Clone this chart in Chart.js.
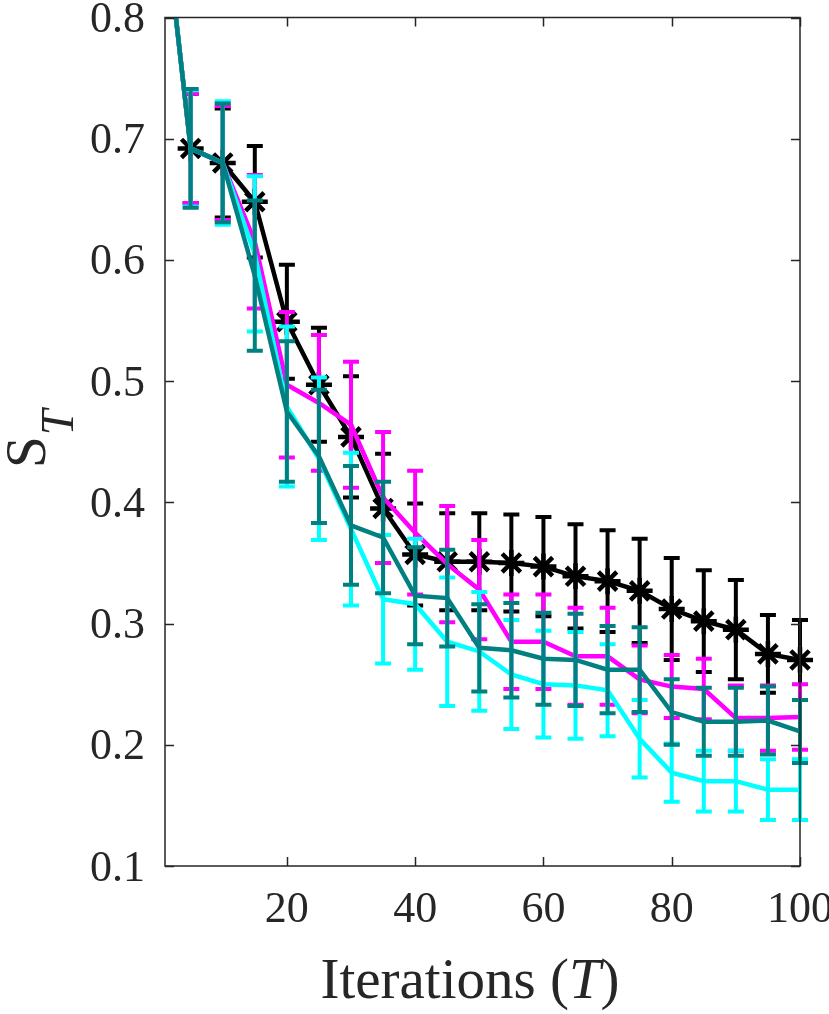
<!DOCTYPE html>
<html>
<head>
<meta charset="utf-8">
<script src="https://cdn.jsdelivr.net/npm/chart.js@4.4.1/dist/chart.umd.min.js"></script>
<style>
html,body{margin:0;padding:0;background:#ffffff;}
#wrap{width:829px;height:1014px;position:relative;}
canvas{display:block;}
</style>
</head>
<body>
<div id="wrap"><canvas id="c" width="829" height="1014"></canvas></div>
<script>
// ---- data ----
const iterations = [1,5,10,15,20,25,30,35,40,45,50,55,60,65,70,75,80,85,90,95,100];

const blackMean = [0.880,0.692,0.680,0.648,0.549,0.497,0.454,0.395,0.357,0.351,0.351,0.350,0.347,0.339,0.335,0.327,0.312,0.302,0.295,0.275,0.270];
const blackErr  = [0.050,0.045,0.045,0.046,0.047,0.047,0.050,0.045,0.042,0.040,0.040,0.040,0.041,0.043,0.042,0.043,0.042,0.042,0.041,0.032,0.033];

const magentaMean = [0.880,0.692,0.680,0.615,0.497,0.482,0.464,0.404,0.375,0.349,0.328,0.285,0.285,0.273,0.273,0.254,0.248,0.246,0.222,0.222,0.223];
const magentaErr  = [0.050,0.045,0.047,0.055,0.060,0.056,0.052,0.054,0.051,0.048,0.041,0.039,0.039,0.040,0.040,0.028,0.026,0.025,0.027,0.027,0.027];

const cyanMean = [0.880,0.692,0.680,0.605,0.479,0.436,0.378,0.320,0.316,0.285,0.277,0.258,0.250,0.249,0.245,0.205,0.177,0.170,0.170,0.163,0.163];
const cyanErr  = [0.050,0.048,0.051,0.064,0.066,0.067,0.063,0.053,0.054,0.053,0.049,0.045,0.044,0.044,0.038,0.032,0.024,0.025,0.025,0.025,0.025];

const tealMean = [0.880,0.692,0.680,0.587,0.475,0.438,0.381,0.371,0.323,0.321,0.280,0.278,0.271,0.270,0.262,0.262,0.227,0.219,0.219,0.220,0.211];
const tealErr  = [0.050,0.049,0.049,0.062,0.058,0.055,0.049,0.046,0.040,0.040,0.036,0.039,0.038,0.038,0.036,0.035,0.027,0.028,0.028,0.028,0.026];

const xTicks = [20,40,60,80,100];
const yTicks = [0.1,0.2,0.3,0.4,0.5,0.6,0.7,0.8];
const yTickLabels = ['0.1','0.2','0.3','0.4','0.5','0.6','0.7','0.8'];

const xTitleMain = 'Iterations (';
const xTitleVar = 'T';
const xTitleEnd = ')';
const yTitleMain = 'S';
const yTitleSub = 'T';

// ---- styling ----
const AXIS = '#262626';
const FONT = '"Liberation Serif", "Times New Roman", Times, serif';

function toPoints(mean){ return iterations.map((x,i)=>({x:x, y:mean[i]})); }

const errorBarPlugin = {
  id: 'errorBars',
  afterDatasetDraw(chart, args) {
    const ds = chart.data.datasets[args.index];
    if (!ds.errors) return;
    const ctx = chart.ctx, a = chart.chartArea;
    const xs = chart.scales.x, ys = chart.scales.y;
    ctx.save();
    ctx.beginPath();
    ctx.rect(a.left, a.top, a.right - a.left + 20, a.bottom - a.top);
    ctx.clip();
    ctx.strokeStyle = ds.borderColor;
    ctx.lineWidth = 4;
    ctx.lineCap = 'butt';
    const half = 8;
    ds.data.forEach((p, i) => {
      const e = ds.errors[i];
      const px = xs.getPixelForValue(p.x);
      const top = ys.getPixelForValue(p.y + e);
      const bot = ys.getPixelForValue(p.y - e);
      ctx.beginPath();
      ctx.moveTo(px, top); ctx.lineTo(px, bot);
      ctx.moveTo(px - half, top); ctx.lineTo(px + half, top);
      ctx.moveTo(px - half, bot); ctx.lineTo(px + half, bot);
      ctx.stroke();
    });
    ctx.restore();
  }
};

const axesBoxPlugin = {
  id: 'axesBox',
  afterDatasetsDraw(chart) {
    const ctx = chart.ctx, a = chart.chartArea;
    const xs = chart.scales.x, ys = chart.scales.y;
    const tl = 9;
    ctx.save();
    ctx.strokeStyle = AXIS;
    ctx.lineWidth = 1.5;
    ctx.strokeRect(a.left, a.top, a.right - a.left, a.bottom - a.top);
    ctx.beginPath();
    xTicks.forEach(v => {
      const px = Math.round(xs.getPixelForValue(v)) + 0.5;
      ctx.moveTo(px, a.bottom); ctx.lineTo(px, a.bottom - tl);
      ctx.moveTo(px, a.top); ctx.lineTo(px, a.top + tl);
    });
    yTicks.forEach(v => {
      const py = Math.round(ys.getPixelForValue(v)) + 0.5;
      ctx.moveTo(a.left, py); ctx.lineTo(a.left + tl, py);
      ctx.moveTo(a.right, py); ctx.lineTo(a.right - tl, py);
    });
    ctx.stroke();
    ctx.restore();
  },
  afterDraw(chart) {
    const ctx = chart.ctx;
    ctx.save();
    ctx.fillStyle = AXIS;
    ctx.textBaseline = 'alphabetic';
    ctx.textAlign = 'left';
    // x title
    const up = '57px ' + FONT, it = 'italic 57px ' + FONT;
    ctx.font = up; const w1 = ctx.measureText(xTitleMain).width; const w3 = ctx.measureText(xTitleEnd).width;
    ctx.font = it; const w2 = ctx.measureText(xTitleVar).width;
    let x0 = 470 - (w1 + w2 + w3) / 2;
    const by = 998;
    ctx.font = up; ctx.fillText(xTitleMain, x0, by);
    ctx.font = it; ctx.fillText(xTitleVar, x0 + w1, by);
    ctx.font = up; ctx.fillText(xTitleEnd, x0 + w1 + w2, by);
    // y title (rotated)
    ctx.translate(45, 468);
    ctx.rotate(-Math.PI / 2);
    ctx.font = up;
    const ws = ctx.measureText(yTitleMain).width;
    ctx.fillText(yTitleMain, 0, 0);
    ctx.font = 'italic 46px ' + FONT;
    ctx.fillText(yTitleSub, ws + 1, 28);
    ctx.restore();
  }
};

const lineCommon = {
  showLine: true,
  tension: 0,
  borderWidth: 4.5,
  pointRadius: 0,
  pointHoverRadius: 0,
  clip: {left: 0, top: 0, right: 20, bottom: 0},
  fill: false
};

const datasets = [
  Object.assign({}, lineCommon, {
    label: 'teal', data: toPoints(tealMean), errors: tealErr,
    borderColor: '#008080', backgroundColor: '#008080', order: 1
  }),
  Object.assign({}, lineCommon, {
    label: 'cyan', data: toPoints(cyanMean), errors: cyanErr,
    borderColor: '#00ffff', backgroundColor: '#00ffff', order: 2
  }),
  Object.assign({}, lineCommon, {
    label: 'magenta', data: toPoints(magentaMean), errors: magentaErr,
    borderColor: '#ff00ff', backgroundColor: '#ff00ff', order: 3
  }),
  Object.assign({}, lineCommon, {
    label: 'black', data: toPoints(blackMean), errors: blackErr,
    borderColor: '#000000', backgroundColor: '#000000', order: 4,
    pointStyle: 'star',
    pointRadius: (c) => (c.dataIndex === 0 ? 0 : 13),
    pointBorderWidth: 4.5,
    pointBorderColor: '#000000',
    pointBackgroundColor: '#000000'
  })
];

new Chart(document.getElementById('c'), {
  type: 'line',
  data: { datasets: datasets },
  plugins: [errorBarPlugin, axesBoxPlugin],
  options: {
    responsive: false,
    animation: false,
    events: [],
    layout: { padding: { top: 14, right: 29, left: 0, bottom: 0 } },
    plugins: { legend: { display: false }, tooltip: { enabled: false } },
    scales: {
      x: {
        type: 'linear', min: 1, max: 100,
        afterBuildTicks: (s) => { s.ticks = xTicks.map(v => ({ value: v })); },
        afterFit: (s) => { s.height = 148; s.paddingLeft = 0; s.paddingRight = 0; },
        grid: { display: false, drawTicks: false, tickLength: 0 },
        border: { display: false },
        ticks: {
          autoSkip: false, maxRotation: 0, minRotation: 0,
          padding: 18, color: AXIS,
          font: { family: FONT, size: 44 },
          callback: (v) => String(v)
        }
      },
      y: {
        type: 'linear', min: 0.1, max: 0.8,
        afterBuildTicks: (s) => { s.ticks = yTicks.map(v => ({ value: v })); },
        afterFit: (s) => { s.width = 165; s.paddingTop = 0; s.paddingBottom = 0; },
        grid: { display: false, drawTicks: false, tickLength: 0 },
        border: { display: false },
        ticks: {
          autoSkip: false, padding: 20, labelOffset: 3, color: AXIS,
          font: { family: FONT, size: 44 },
          callback: (v, i) => yTickLabels[i]
        }
      }
    }
  }
});
</script>
</body>
</html>
